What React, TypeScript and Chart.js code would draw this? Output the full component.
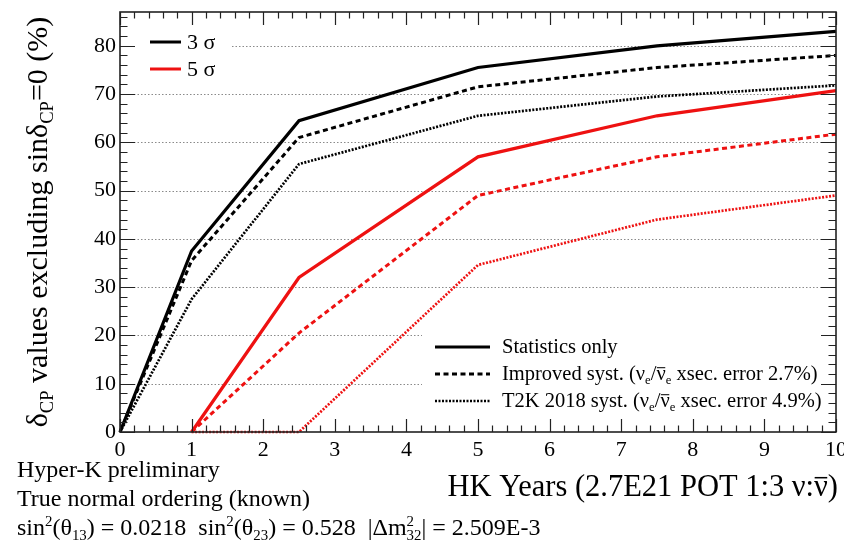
import React, { useEffect, useRef } from "react";
import { Chart, registerables } from "chart.js";

Chart.register(...registerables);

// Exposure in HK years and the fraction of delta_CP values excluded (%)
const years = [0, 1, 2.5, 5, 7.5, 10];
const stat3 = [0, 37.5, 64.5, 75.5, 80, 83];
const improved3 = [0, 35.5, 61, 71.5, 75.5, 78];
const t2k3 = [0, 27.5, 55.5, 65.5, 69.5, 71.8];
const stat5 = [null, 0, 32, 57, 65.5, 70.7];
const improved5 = [null, 0, 20.5, 49, 57, 61.7];
const t2k5 = [null, 0, 0, 34.6, 44, 49];

const xTicks = [0, 1, 2, 3, 4, 5, 6, 7, 8, 9, 10];
const yTicks = [0, 10, 20, 30, 40, 50, 60, 70, 80];
const gridValues = [10, 20, 30, 40, 50, 60, 70, 80];

const FAM = '"Liberation Serif", "Times New Roman", serif';
const RED = "#ee1111";
const BLACK = "#000000";

type Seg = { t?: string; sup?: string; sub?: string; over?: boolean };

function segWidth(ctx: CanvasRenderingContext2D, s: Seg, size: number) {
  if (s.t !== undefined) {
    ctx.font = `${size}px ${FAM}`;
    return ctx.measureText(s.t).width;
  }
  ctx.font = `${size * 0.62}px ${FAM}`;
  return Math.max(
    s.sup ? ctx.measureText(s.sup).width : 0,
    s.sub ? ctx.measureText(s.sub).width : 0
  );
}

function drawRich(
  ctx: CanvasRenderingContext2D,
  segs: Seg[],
  x: number,
  y: number,
  size: number,
  align: "left" | "right" | "center",
  color = "#000"
) {
  const widths = segs.map((s) => segWidth(ctx, s, size));
  const total = widths.reduce((a, b) => a + b, 0);
  let cx = align === "left" ? x : align === "right" ? x - total : x - total / 2;
  ctx.save();
  ctx.fillStyle = color;
  ctx.strokeStyle = color;
  ctx.textAlign = "left";
  ctx.textBaseline = "alphabetic";
  segs.forEach((s, i) => {
    if (s.t !== undefined) {
      ctx.font = `${size}px ${FAM}`;
      ctx.fillText(s.t, cx, y);
      if (s.over) {
        ctx.lineWidth = Math.max(1, size * 0.05);
        ctx.beginPath();
        ctx.moveTo(cx + size * 0.02, y - size * 0.6);
        ctx.lineTo(cx + widths[i] - size * 0.02, y - size * 0.6);
        ctx.stroke();
      }
    } else {
      ctx.font = `${size * 0.62}px ${FAM}`;
      if (s.sup) ctx.fillText(s.sup, cx, y - size * 0.36);
      if (s.sub) ctx.fillText(s.sub, cx, y + size * 0.2);
    }
    cx += widths[i];
  });
  ctx.restore();
}

function drawLegendLine(
  ctx: CanvasRenderingContext2D,
  x0: number,
  x1: number,
  y: number,
  color: string,
  width: number,
  dash: number[]
) {
  ctx.save();
  ctx.strokeStyle = color;
  ctx.lineWidth = width;
  ctx.setLineDash(dash);
  ctx.beginPath();
  ctx.moveTo(x0, y);
  ctx.lineTo(x1, y);
  ctx.stroke();
  ctx.restore();
}

const SOLID: number[] = [];
const DASHED = [5, 3.5];
const DOTTED = [2, 1.5];

const framePlugin = {
  id: "rootFrame",
  beforeDatasetsDraw(chart: any) {
    const { ctx, chartArea: a, scales } = chart;
    const ys = scales.y;
    ctx.save();
    ctx.strokeStyle = "#8a8a8a";
    ctx.lineWidth = 1;
    ctx.setLineDash([1.5, 2]);
    gridValues.forEach((v) => {
      const py = Math.round(ys.getPixelForValue(v)) + 0.5;
      ctx.beginPath();
      ctx.moveTo(a.left, py);
      ctx.lineTo(a.right, py);
      ctx.stroke();
    });
    ctx.restore();
  },
  afterDatasetsDraw(chart: any) {
    const { ctx, chartArea: a, scales } = chart;
    const xs = scales.x;
    const ys = scales.y;

    // legend panels
    ctx.save();
    ctx.fillStyle = "#ffffff";
    ctx.fillRect(a.left + 2, a.top + 8, 110, 62);
    ctx.fillRect(422, 326, a.right - 424, 98);
    ctx.restore();

    drawLegendLine(ctx, 150, 181, 42, BLACK, 3, SOLID);
    drawRich(ctx, [{ t: "3 σ" }], 187, 49, 22, "left");
    drawLegendLine(ctx, 150, 181, 69, RED, 3, SOLID);
    drawRich(ctx, [{ t: "5 σ" }], 187, 76, 22, "left");

    const ls = 20.5;
    drawLegendLine(ctx, 435, 490, 347, BLACK, 3.2, SOLID);
    drawRich(ctx, [{ t: "Statistics only" }], 502, 353, ls, "left");
    drawLegendLine(ctx, 435, 490, 374, BLACK, 3, DASHED);
    drawRich(
      ctx,
      [
        { t: "Improved syst. (ν" },
        { sub: "e" },
        { t: "/" },
        { t: "ν", over: true },
        { sub: "e" },
        { t: " xsec. error 2.7%)" },
      ],
      502,
      380,
      ls,
      "left"
    );
    drawLegendLine(ctx, 435, 490, 401, BLACK, 2.7, DOTTED);
    drawRich(
      ctx,
      [
        { t: "T2K 2018 syst. (ν" },
        { sub: "e" },
        { t: "/" },
        { t: "ν", over: true },
        { sub: "e" },
        { t: " xsec. error 4.9%)" },
      ],
      502,
      407,
      ls,
      "left"
    );

    // frame
    ctx.save();
    ctx.strokeStyle = "#222";
    ctx.lineWidth = 1.6;
    ctx.strokeRect(a.left, a.top, a.right - a.left, a.bottom - a.top);

    // x ticks (bottom and top, inward)
    ctx.lineWidth = 1.2;
    for (let i = 0; i <= 50; i++) {
      const v = i * 0.2;
      const px = Math.round(xs.getPixelForValue(v)) + 0.5;
      const len = i % 5 === 0 ? 13 : 6.5;
      ctx.beginPath();
      ctx.moveTo(px, a.bottom);
      ctx.lineTo(px, a.bottom - len);
      ctx.moveTo(px, a.top);
      ctx.lineTo(px, a.top + len);
      ctx.stroke();
    }
    // y ticks (left and right, inward)
    for (let v = 0; v <= 86; v += 2) {
      const py = Math.round(ys.getPixelForValue(v)) + 0.5;
      const len = v % 10 === 0 ? 15 : 7.5;
      ctx.beginPath();
      ctx.moveTo(a.left, py);
      ctx.lineTo(a.left + len, py);
      ctx.moveTo(a.right, py);
      ctx.lineTo(a.right - len, py);
      ctx.stroke();
    }
    ctx.restore();

    // tick labels
    ctx.save();
    ctx.fillStyle = "#000";
    ctx.font = `22px ${FAM}`;
    ctx.textAlign = "center";
    ctx.textBaseline = "alphabetic";
    xTicks.forEach((v) => {
      ctx.fillText(String(v), xs.getPixelForValue(v), a.bottom + 24);
    });
    ctx.textAlign = "right";
    ctx.textBaseline = "middle";
    yTicks.forEach((v) => {
      ctx.fillText(String(v), a.left - 4, ys.getPixelForValue(v));
    });
    ctx.restore();

    // axis titles
    drawRich(
      ctx,
      [{ t: "HK Years (2.7E21 POT 1:3 ν:" }, { t: "ν", over: true }, { t: ")" }],
      a.right + 2,
      496,
      30.5,
      "right"
    );

    ctx.save();
    ctx.translate(47, 222);
    ctx.rotate(-Math.PI / 2);
    drawRich(
      ctx,
      [
        { t: "δ" },
        { sub: "CP" },
        { t: " values excluding sinδ" },
        { sub: "CP" },
        { t: "=0 (%)" },
      ],
      0,
      0,
      30,
      "center"
    );
    ctx.restore();

    // notes below the frame
    const ns = 24;
    drawRich(ctx, [{ t: "Hyper-K preliminary" }], 17, 477, ns, "left");
    drawRich(ctx, [{ t: "True normal ordering (known)" }], 17, 506, ns, "left");
    drawRich(
      ctx,
      [
        { t: "sin" },
        { sup: "2" },
        { t: "(θ" },
        { sub: "13" },
        { t: ") = 0.0218  sin" },
        { sup: "2" },
        { t: "(θ" },
        { sub: "23" },
        { t: ") = 0.528  |Δm" },
        { sup: "2", sub: "32" },
        { t: "| = 2.509E-3" },
      ],
      17,
      535,
      ns,
      "left"
    );
  },
};

function series(xs: number[], ys: (number | null)[]) {
  return xs.map((x, i) => ({ x, y: ys[i] }));
}

export default function App() {
  const ref = useRef<HTMLCanvasElement | null>(null);

  useEffect(() => {
    if (!ref.current) return;
    const mk = (label: string, data: (number | null)[], color: string, width: number, dash: number[]) => ({
      label,
      data: series(years, data),
      borderColor: color,
      backgroundColor: color,
      borderWidth: width,
      borderDash: dash,
      pointRadius: 0,
      tension: 0,
      fill: false,
      spanGaps: false,
      clip: 6,
    });
    const chart = new Chart(ref.current, {
      type: "line",
      data: {
        datasets: [
          mk("3σ Statistics only", stat3, BLACK, 3.2, SOLID),
          mk("3σ Improved syst.", improved3, BLACK, 3, DASHED),
          mk("3σ T2K 2018 syst.", t2k3, BLACK, 2.7, DOTTED),
          mk("5σ Statistics only", stat5, RED, 3.2, SOLID),
          mk("5σ Improved syst.", improved5, RED, 3, DASHED),
          mk("5σ T2K 2018 syst.", t2k5, RED, 2.7, DOTTED),
        ] as any,
      },
      options: {
        responsive: false,
        animation: false,
        events: [],
        layout: { padding: { left: 120, right: 8, top: 12, bottom: 112 } },
        scales: {
          x: { type: "linear", min: 0, max: 10, display: false },
          y: { type: "linear", min: 0, max: 87, display: false },
        },
        plugins: {
          legend: { display: false },
          tooltip: { enabled: false },
          title: { display: false },
        },
      },
      plugins: [framePlugin],
    });
    return () => chart.destroy();
  }, []);

  return (
    <div style={{ position: "absolute", left: 0, top: 0, width: 844, height: 544, background: "#fff" }}>
      <canvas ref={ref} width={844} height={544} style={{ display: "block", width: 844, height: 544 }} />
    </div>
  );
}
